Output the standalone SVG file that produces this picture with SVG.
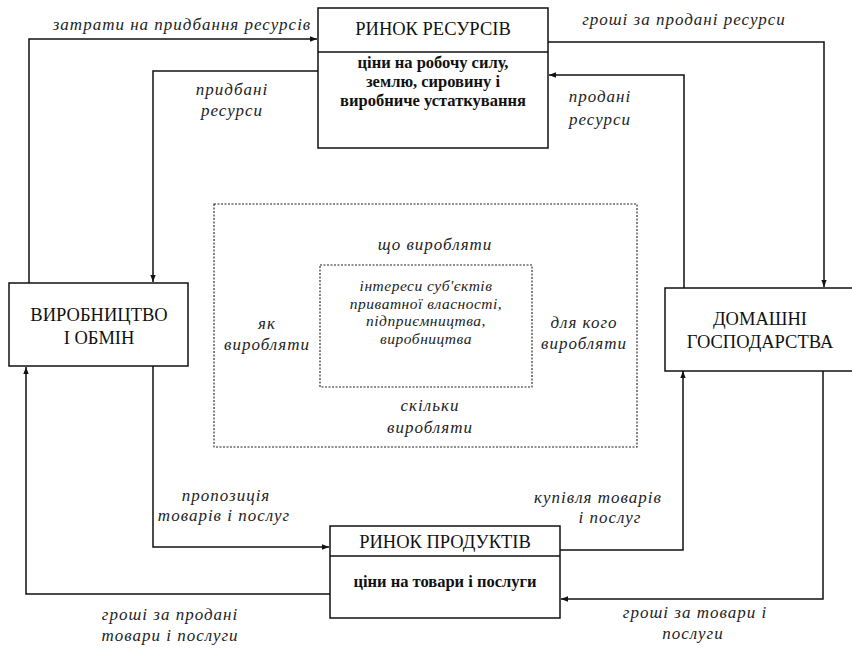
<svg xmlns="http://www.w3.org/2000/svg" width="852" height="651" viewBox="0 0 852 651">
<defs>
<marker id="ah" viewBox="0 0 10 10" refX="10" refY="5" markerWidth="8" markerHeight="7" markerUnits="userSpaceOnUse" orient="auto">
<path d="M0,1.2 L10,5 L0,8.8 Z" fill="#111"/>
</marker>
<style>
.box{fill:#fff;stroke:#111;stroke-width:1.5}
.dot{fill:none;stroke:#222;stroke-width:1.1;stroke-dasharray:2 1.5}
.ln{fill:none;stroke:#111;stroke-width:1.5;marker-end:url(#ah)}
.h{font-size:18.5px;fill:#111;text-anchor:middle}
.b{font-size:16.5px;font-weight:bold;fill:#111;text-anchor:middle}
.i{font-size:17px;font-style:italic;letter-spacing:1px;fill:#222;text-anchor:middle}
.s{font-size:15.5px;font-style:italic;letter-spacing:0.5px;fill:#222;text-anchor:middle}
</style>
</defs>
<rect width="852" height="651" fill="#fff"/>
<g id="connectors">
<polyline class="ln" points="29,283 29,39 317,39"/>
<polyline class="ln" points="318,71 153,71 153,282"/>
<polyline class="ln" points="548,42 824,42 824,287"/>
<polyline class="ln" points="684,288 684,75 549,75"/>
<polyline class="ln" points="153,366 153,547 329,547"/>
<polyline class="ln" points="330,594 26,594 26,367"/>
<polyline class="ln" points="560,550 683,550 683,371"/>
<polyline class="ln" points="823,370 823,599 561,599"/>
</g>
<g id="labels" font-family="'Liberation Serif','DejaVu Serif','Noto Serif',serif">
<text class="i" x="182" y="30">затрати на придбання ресурсів</text>
<text class="i" x="684" y="25">гроші за продані ресурси</text>
<text class="i" x="232" y="95">придбані</text>
<text class="i" x="232" y="116">ресурси</text>
<text class="i" x="600" y="102">продані</text>
<text class="i" x="600" y="125">ресурси</text>
<text class="i" x="226" y="501">пропозиція</text>
<text class="i" x="224" y="521">товарів і послуг</text>
<text class="i" x="598" y="503">купівля товарів</text>
<text class="i" x="610" y="523">і послуг</text>
<text class="i" x="170" y="620">гроші за продані</text>
<text class="i" x="170" y="641">товари і послуги</text>
<text class="i" x="695" y="618">гроші за  товари і</text>
<text class="i" x="693" y="639">послуги</text>
</g>
<g id="resource-market" font-family="'Liberation Serif','DejaVu Serif','Noto Serif',serif">
<rect class="box" x="318" y="8" width="230" height="140"/>
<line x1="318" y1="52" x2="548" y2="52" stroke="#111" stroke-width="1.5"/>
<text class="h" x="433" y="35">РИНОК РЕСУРСІВ</text>
<text class="b" x="433" y="68">ціни на робочу силу,</text>
<text class="b" x="433" y="87">землю, сировину і</text>
<text class="b" x="433" y="106">виробниче устаткування</text>
</g>
<g id="production" font-family="'Liberation Serif','DejaVu Serif','Noto Serif',serif">
<rect class="box" x="9" y="283" width="179" height="83"/>
<text class="h" x="99" y="321">ВИРОБНИЦТВО</text>
<text class="h" x="99" y="344">І ОБМІН</text>
</g>
<g id="households" font-family="'Liberation Serif','DejaVu Serif','Noto Serif',serif">
<rect class="box" x="665" y="288" width="195" height="83"/>
<text class="h" x="760" y="325">ДОМАШНІ</text>
<text class="h" x="760" y="348">ГОСПОДАРСТВА</text>
</g>
<g id="product-market" font-family="'Liberation Serif','DejaVu Serif','Noto Serif',serif">
<rect class="box" x="330" y="526" width="230" height="92"/>
<line x1="330" y1="556" x2="560" y2="556" stroke="#111" stroke-width="1.5"/>
<text class="h" x="445" y="548">РИНОК ПРОДУКТІВ</text>
<text class="b" x="445" y="587">ціни на товари і послуги</text>
</g>
<g id="questions" font-family="'Liberation Serif','DejaVu Serif','Noto Serif',serif">
<rect class="dot" x="214" y="204" width="423" height="243"/>
<text class="i" x="435" y="250">що виробляти</text>
<text class="i" x="267" y="329">як</text>
<text class="i" x="267" y="350">виробляти</text>
<text class="i" x="584" y="328">для кого</text>
<text class="i" x="584" y="349">виробляти</text>
<text class="i" x="430" y="411">скільки</text>
<text class="i" x="430" y="433">виробляти</text>
</g>
<g id="interests" font-family="'Liberation Serif','DejaVu Serif','Noto Serif',serif">
<rect class="dot" x="320" y="265" width="212" height="122"/>
<text class="s" x="426" y="291">інтереси суб'єктів</text>
<text class="s" x="426" y="308.5">приватної власності,</text>
<text class="s" x="426" y="326">підприємництва,</text>
<text class="s" x="426" y="343.5">виробництва</text>
</g>
</svg>
